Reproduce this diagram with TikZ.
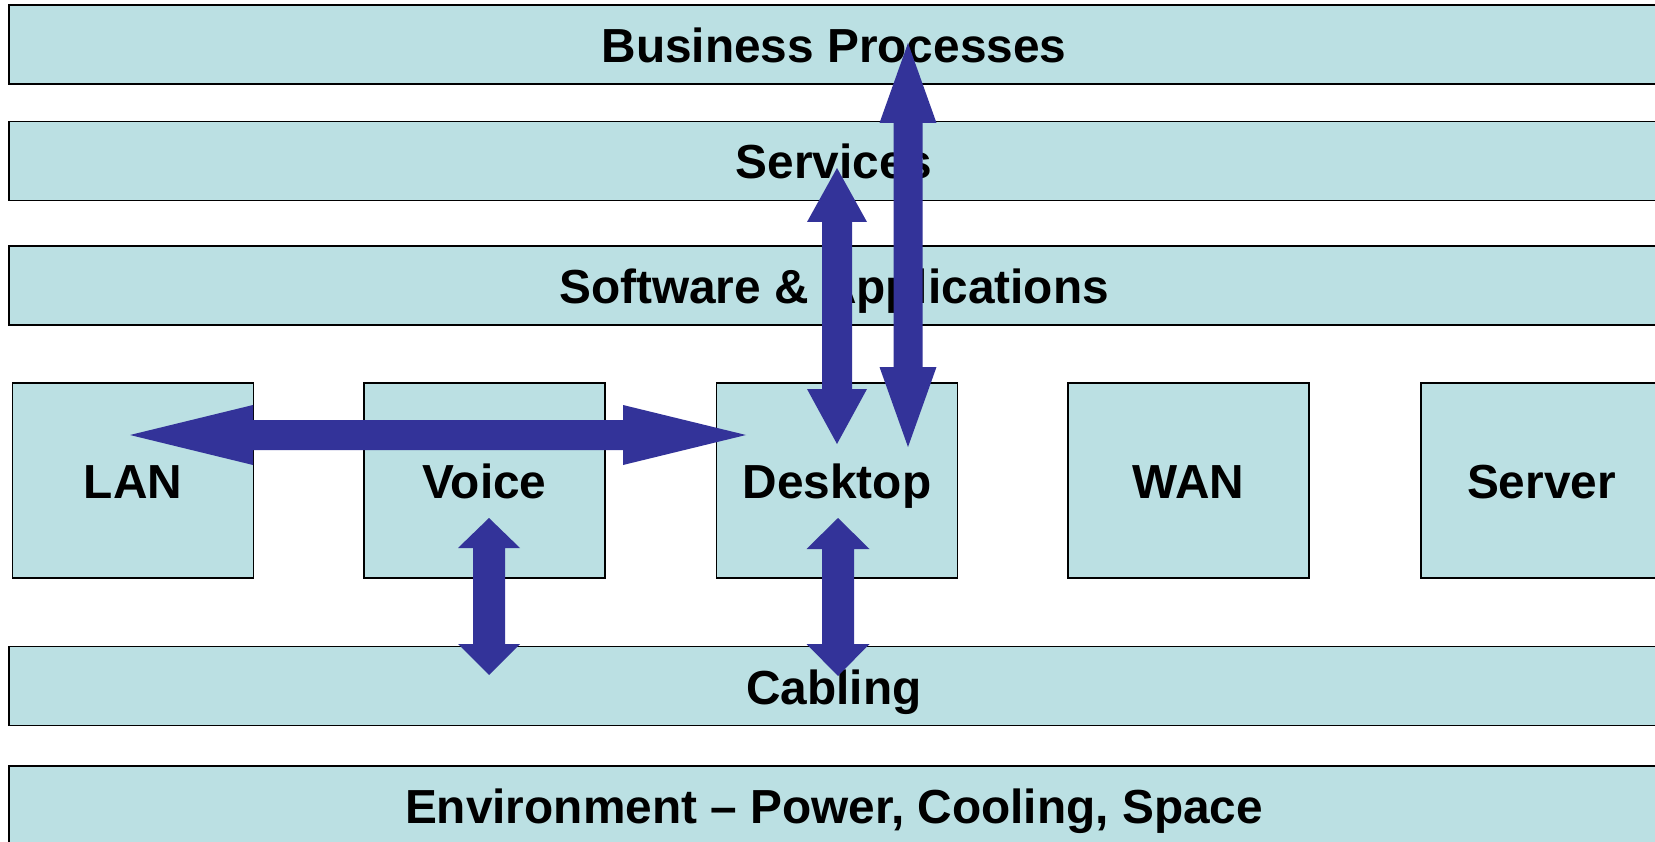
\documentclass[tikz,border=0pt]{standalone}
\usepackage{fontspec}
\setmainfont{Liberation Sans}
\usetikzlibrary{calc}
\definecolor{boxfill}{RGB}{187,224,227}
\definecolor{arrowblue}{RGB}{51,51,153}
\tikzset{
  layer/.style={draw=black, line width=1.5pt, fill=boxfill, rectangle, inner sep=0pt,
    minimum height=79pt, minimum width=1650pt,
    font=\bfseries\fontsize{47.8}{57}\selectfont, text height=36pt, text depth=0pt},
  unitbox/.style={layer, minimum width=241pt, minimum height=195pt},
  blockarrow/.style={fill=arrowblue}
}
% vertical double block arrow: #1 top tip, #2 bottom tip, #3 half shaft, #4 half head, #5 top head length, #6 bottom head length
\newcommand{\VBlockArrow}[6]{%
  \fill[blockarrow] (#1) -- ([shift={(#4,#5)}]#1) -- ([shift={(#3,#5)}]#1)
    -- ([shift={(#3,-#6)}]#2) -- ([shift={(#4,-#6)}]#2) -- (#2)
    -- ([shift={(-#4,-#6)}]#2) -- ([shift={(-#3,-#6)}]#2)
    -- ([shift={(-#3,#5)}]#1) -- ([shift={(-#4,#5)}]#1) -- cycle;}
% horizontal double block arrow: #1 left tip, #2 right tip
\newcommand{\HBlockArrow}[6]{%
  \fill[blockarrow] (#1) -- ([shift={(#5,-#4)}]#1) -- ([shift={(#5,-#3)}]#1)
    -- ([shift={(-#6,-#3)}]#2) -- ([shift={(-#6,-#4)}]#2) -- (#2)
    -- ([shift={(-#6,#4)}]#2) -- ([shift={(-#6,#3)}]#2)
    -- ([shift={(#5,#3)}]#1) -- ([shift={(#5,#4)}]#1) -- cycle;}
\begin{document}
\begin{tikzpicture}[x=1pt,y=-1pt]
\useasboundingbox (0,0) rectangle (1655,842);
\clip (0,0) rectangle (1655,842);
\fill[white] (0,0) rectangle (1655,842);

\node[layer] (bp)  at (834,44.5)  {Business Processes};
\node[layer] (svc) at (834,161)   {Services};
\node[layer] (sw)  at (834,285.5) {Software \& Applications};
\node[unitbox] (lan)   at (133,480.5)    {LAN};
\node[unitbox] (voice) at (484.5,480.5)  {Voice};
\node[unitbox] (desk)  at (837,480.5)    {Desktop};
\node[unitbox] (wan)   at (1188.5,480.5) {WAN};
\node[unitbox] (srv)   at (1541.5,480.5) {Server};
\node[layer] (cab) at (834,686)   {Cabling};
\node[layer] (env) at (834,805.5) {Environment – Power, Cooling, Space};

% arrow end points
\coordinate (hL) at (130,435);
\coordinate (hR) at (746,435);
\coordinate (vT) at (489,518);
\coordinate (vB) at (489,675);
\coordinate (dT) at (838,518);
\coordinate (dB) at (838,676);
\coordinate (sT) at (837,168);
\coordinate (sB) at (837,444);
\coordinate (bT) at (908,43);
\coordinate (bB) at (908,447);

\HBlockArrow{hL}{hR}{15}{30}{123}{123}
\VBlockArrow{vT}{vB}{16}{31}{30}{31}
\VBlockArrow{dT}{dB}{16}{31.5}{31}{32}
\VBlockArrow{sT}{sB}{15}{30}{54}{55}
\VBlockArrow{bT}{bB}{14.5}{28.5}{80}{80}
\end{tikzpicture}
\end{document}
